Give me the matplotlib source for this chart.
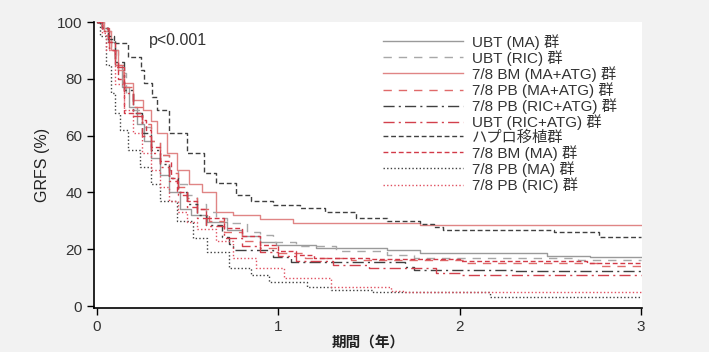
import numpy as np
import matplotlib
matplotlib.use('Agg')
from matplotlib import pyplot as plt

plt.rcParams['font.family'] = ['Liberation Sans', 'Noto Sans CJK JP', 'DejaVu Sans']

# (years, GRFS %) step points
t_ubt_ma = [0, 0.03, 0.06, 0.1, 0.14, 0.18, 0.22, 0.26, 0.3, 0.35, 0.4, 0.46, 0.52, 0.61, 0.72, 0.8, 0.9, 0.99, 1.21, 1.6, 1.78, 2.48, 2.72, 3.0]
v_ubt_ma = [100, 98, 93, 85, 77, 70, 64, 58, 52, 46, 40, 34, 32, 29.6, 26.8, 24.5, 22.5, 21.5, 20.4, 19.7, 18.6, 17.7, 17.2, 17.2]

t_ubt_ric = [0, 0.04, 0.08, 0.12, 0.16, 0.2, 0.25, 0.3, 0.35, 0.4, 0.45, 0.5, 0.55, 0.6, 0.66, 0.72, 0.83, 0.9, 0.97, 1.1, 1.32, 1.6, 1.75, 2.65, 3.0]
v_ubt_ric = [100, 97, 90, 82, 75, 69, 63, 58, 53, 48, 43, 39, 36, 33, 31, 29.2, 26, 25, 22.5, 21, 19.4, 18, 16.9, 16.2, 16.2]

t_bm_ma_atg = [0, 0.04, 0.08, 0.12, 0.145, 0.2, 0.255, 0.3, 0.33, 0.39, 0.44, 0.51, 0.58, 0.66, 0.75, 0.9, 1.08, 1.78, 3.0]
v_bm_ma_atg = [100, 97, 90, 83, 78.5, 72.5, 69, 65, 61, 54, 48, 43, 40, 33, 32, 30.6, 29.2, 28.4, 28.4]

t_pb_ma_atg = [0, 0.03, 0.07, 0.1, 0.15, 0.2, 0.25, 0.3, 0.35, 0.4, 0.45, 0.5, 0.55, 0.62, 0.7, 0.8, 0.9, 1.0, 1.15, 1.4, 2.04, 2.77, 3.0]
v_pb_ma_atg = [100, 98, 91, 85, 77, 70, 64, 58, 53, 47, 42, 38, 34, 30, 26, 23, 20.5, 18.5, 17, 16.2, 15.1, 14.1, 14.1]

t_pb_ric_atg = [0, 0.03, 0.06, 0.1, 0.15, 0.2, 0.25, 0.3, 0.35, 0.4, 0.45, 0.5, 0.55, 0.6, 0.69, 0.73, 0.75, 0.97, 1.07, 1.7, 1.75, 2.3, 3.0]
v_pb_ric_atg = [100, 98, 94, 86, 76, 68, 61, 55, 50, 45, 40, 36, 32, 28.5, 24.3, 22, 19.7, 17.3, 15.5, 13.7, 12.7, 12.4, 12.4]

t_ubt_ric_atg = [0, 0.03, 0.07, 0.1, 0.15, 0.2, 0.25, 0.3, 0.35, 0.4, 0.45, 0.5, 0.55, 0.6, 0.7, 0.8, 0.9, 1.0, 1.1, 1.3, 1.5, 1.87, 2.0, 3.0]
v_ubt_ric_atg = [100, 97, 90, 84, 75, 67, 60, 54, 49, 44, 39, 35, 31, 28, 24, 21, 19, 17.5, 16, 14.5, 13.4, 11.6, 10.9, 10.9]

t_haplo = [0, 0.03, 0.06, 0.095, 0.17, 0.245, 0.26, 0.305, 0.33, 0.4, 0.5, 0.59, 0.66, 0.77, 0.85, 0.97, 1.12, 1.26, 1.43, 1.6, 1.78, 1.86, 1.91, 2.52, 2.77, 3.0]
v_haplo = [100, 98, 95, 92.6, 87.7, 83, 78.5, 73.6, 69, 61, 54, 47, 43.3, 39, 37, 35.5, 34.4, 33, 31, 30, 29, 27.8, 26.8, 26, 24.4, 24.4]

t_bm_ma = [0, 0.03, 0.06, 0.1, 0.12, 0.15, 0.25, 0.27, 0.3, 0.35, 0.41, 0.44, 0.5, 0.55, 0.6, 0.7, 0.8, 0.9, 1.0, 1.1, 1.2, 1.5, 2.0, 2.7, 3.0]
v_bm_ma = [100, 98, 93, 86, 80, 68, 65.5, 62, 56, 51, 45, 40, 37, 34, 31, 27.5, 24.5, 21.5, 19.5, 18, 17, 16.5, 16.0, 15.2, 15.2]

t_pb_ma = [0, 0.02, 0.05, 0.08, 0.1, 0.13, 0.17, 0.24, 0.3, 0.35, 0.44, 0.53, 0.61, 0.73, 0.85, 0.95, 1.16, 1.29, 1.52, 2.17, 3.0]
v_pb_ma = [100, 95, 85, 75, 68, 62, 55, 49, 43, 37, 30, 24, 19, 13.4, 11, 8.5, 6.7, 5.6, 5, 3.3, 3.3]

t_pb_ric = [0, 0.03, 0.05, 0.1, 0.15, 0.2, 0.25, 0.3, 0.35, 0.4, 0.45, 0.5, 0.55, 0.66, 0.75, 0.88, 1.03, 1.29, 1.62, 1.7, 3.0]
v_pb_ric = [100, 96, 90, 78, 69, 61, 54, 48, 42, 37, 33, 29.5, 27, 23, 17, 13.4, 9.9, 6.7, 5.3, 4.8, 4.8]

labels = ['UBT (MA) 群', 'UBT (RIC) 群', '7/8 BM (MA+ATG) 群', '7/8 PB (MA+ATG) 群',
          '7/8 PB (RIC+ATG) 群', 'UBT (RIC+ATG) 群', 'ハプロ移植群', '7/8 BM (MA) 群',
          '7/8 PB (MA) 群', '7/8 PB (RIC) 群']

series = [
    (t_ubt_ma, v_ubt_ma, '#9a9a9a', '-'),
    (t_ubt_ric, v_ubt_ric, '#a8a8a8', (0, (6, 5))),
    (t_bm_ma_atg, v_bm_ma_atg, '#e08585', '-'),
    (t_pb_ma_atg, v_pb_ma_atg, '#e06a6a', (0, (6, 5))),
    (t_pb_ric_atg, v_pb_ric_atg, '#404040', (0, (8, 3, 1.5, 3))),
    (t_ubt_ric_atg, v_ubt_ric_atg, '#d2404c', (0, (8, 3, 1.5, 3))),
    (t_haplo, v_haplo, '#404040', (0, (3.5, 2))),
    (t_bm_ma, v_bm_ma, '#d23a48', (0, (3.5, 2))),
    (t_pb_ma, v_pb_ma, '#404040', (0, (1, 1.6))),
    (t_pb_ric, v_pb_ric, '#e05060', (0, (1, 1.6))),
]

fig = plt.figure(figsize=(7.09, 3.52), dpi=100, facecolor='#f2f2f2')
ax = fig.add_axes([94/709, 1-308/352, 548/709, 286/352])
ax.set_facecolor('white')

for (t, v, c, ls), lab in zip(series, labels):
    ax.step(t, v, where='post', color=c, linestyle=ls, linewidth=1.0, label=lab)

ax.set_xlim(-0.015, 3.005)
ax.set_ylim(-0.7, 100)
ax.set_xticks([0, 1, 2, 3])
ax.set_yticks([0, 20, 40, 60, 80, 100])
ax.tick_params(labelsize=11, length=5, width=1, colors='black', labelcolor='#333333')
for s in ['top', 'right']:
    ax.spines[s].set_visible(False)
for s in ['left', 'bottom']:
    ax.spines[s].set_linewidth(1.2)

ax.set_xlabel('期間（年）', fontsize=10.5, fontweight='bold', color='#222222', labelpad=1)
ax.set_ylabel('GRFS (%)', fontsize=11.5, color='#222222', labelpad=5)
ax.text(0.29, 93.5, 'p<0.001', fontsize=11.5, color='#333333', va='center')

leg = ax.legend(loc='upper left', bbox_to_anchor=(0.514, 0.985), frameon=False,
                fontsize=11, handlelength=5.2, handletextpad=0.6,
                labelspacing=0.02, borderpad=0.3, borderaxespad=0.2)
for txt in leg.get_texts():
    txt.set_color('#333333')

plt.savefig('out.png', dpi=100, facecolor=fig.get_facecolor())
